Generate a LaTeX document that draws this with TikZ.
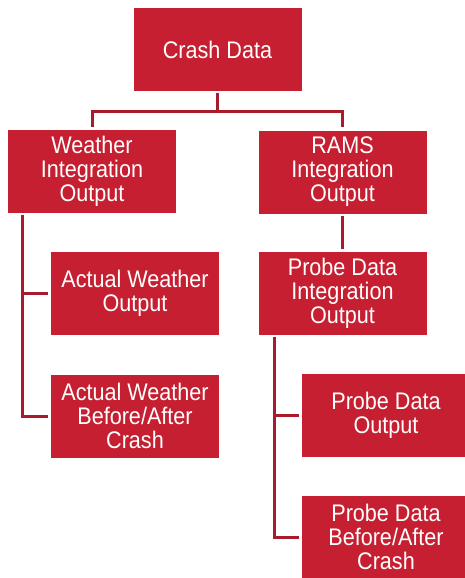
\documentclass[tikz,border=0pt]{standalone}
\usepackage{fontspec}
\setmainfont{Liberation Sans}[FakeStretch=0.9]
\definecolor{boxred}{HTML}{C51F31}
\definecolor{linered}{HTML}{A81B2C}
\begin{document}
\begin{tikzpicture}[x=1pt,y=-1pt,
  box/.style={rectangle, fill=boxred, draw=none, text=white, align=center,
    minimum width=168pt, minimum height=83pt, inner sep=0pt,
    font=\fontsize{24}{24}\selectfont},
  conn/.style={draw=linered, line width=3pt, shorten <=2pt, shorten >=3pt}]
\useasboundingbox (0,0) rectangle (465,578);
\node[box] (crash) at (217.5,49.5) {Crash Data};
\node[box] (weather) at (92,171.5) {Weather\\Integration\\Output};
\node[box] (rams) at (342.5,172) {RAMS\\Integration\\Output};
\node[box] (awo) at (135,293.5) {Actual Weather\\Output};
\node[box] (awba) at (135,416) {Actual Weather\\Before/After\\Crash};
\node[box] (pdi) at (342.5,293.5) {Probe Data\\Integration\\Output};
\node[box] (pdo) at (386,415.5) {Probe Data\\Output};
\node[box] (pdba) at (386,537) {Probe Data\\Before/After\\Crash};
\draw[conn] (crash.south) -- ++(0,20) -| (weather.north);
\draw[conn] (crash.south) -- ++(0,20) -| (rams.north);
\draw[conn] (rams.south) -- (pdi.north);
\draw[conn] ([xshift=15pt]weather.south west) |- (awo.west);
\draw[conn] ([xshift=15pt]weather.south west) |- (awba.west);
\draw[conn] ([xshift=16pt]pdi.south west) |- (pdo.west);
\draw[conn] ([xshift=16pt]pdi.south west) |- (pdba.west);
\end{tikzpicture}
\end{document}
